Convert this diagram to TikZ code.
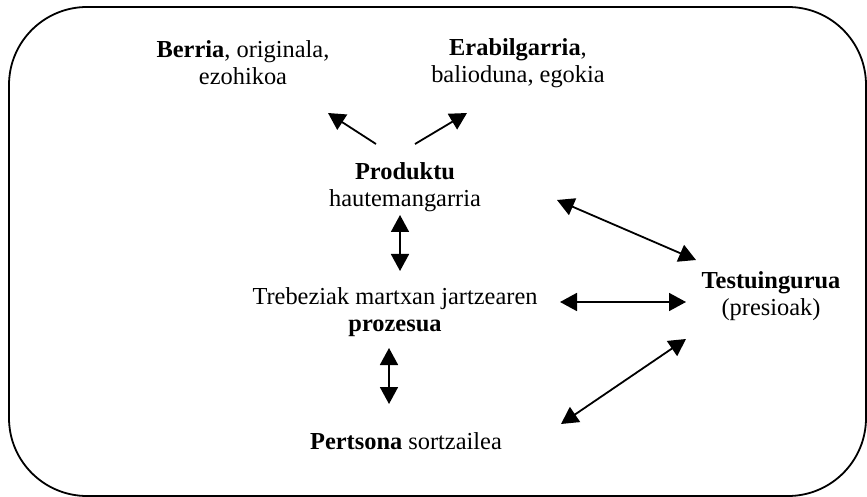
\documentclass[tikz,border=0pt]{standalone}
\usepackage{fontspec}
\setmainfont{Liberation Serif}
\usepackage{tikz}
\usetikzlibrary{calc, positioning, arrows.meta}

\begin{document}
\begin{tikzpicture}[-,auto,x=0.5pt,y=-0.5pt,
                    line width=0.9pt,
                    main node/.style={align=center,inner sep=0pt,font=\fontsize{12.2}{13.5}\selectfont},
                    one way/.style={-{Triangle[length=8.5pt,width=9pt]}},
                    two way/.style={{Triangle[length=8.5pt,width=9pt]}-{Triangle[length=8.5pt,width=9pt]}}]
\useasboundingbox (0,0) rectangle (867,497);
\draw[rounded corners=39pt] (9,7) rectangle (866,496);

\node[main node] (Berria) at (243,63) {\textbf{Berria}, originala,\\ ezohikoa};
\node[main node] (Erabilgarria) at (518,63) {\textbf{Erabilgarria},\\ balioduna, egokia};
\node[main node] (Produktu) at (405,187) {\textbf{Produktu}\\ hautemangarria};
\node[main node] (Prozesua) at (395,312) {Trebeziak martxan jartzearen\\ \textbf{prozesua}};
\node[main node] (Pertsona) at (406,441) {\textbf{Pertsona} sortzailea};
\node[main node] (Testuingurua) at (771,296) {\textbf{Testuingurua}\\ (presioak)};

\draw[one way] ($(Produktu)+(-29,-43)$) -- ($(Berria)+(85,50)$);
\draw[one way] ($(Produktu)+(10,-43)$) -- ($(Erabilgarria)+(-51,50)$);
\draw[two way] ($(Produktu)+(-5,28)$) -- ($(Prozesua)+(5,-41)$);
\draw[two way] ($(Prozesua)+(-6,36)$) -- ($(Pertsona)+(-17,-37)$);
\draw[two way] ($(Produktu)+(152,13)$) -- ($(Testuingurua)+(-75,-36)$);
\draw[two way] ($(Prozesua)+(165,-10)$) -- ($(Testuingurua)+(-85,6)$);
\draw[two way] ($(Pertsona)+(155,-17)$) -- ($(Testuingurua)+(-85,43)$);

\end{tikzpicture}
\end{document}
